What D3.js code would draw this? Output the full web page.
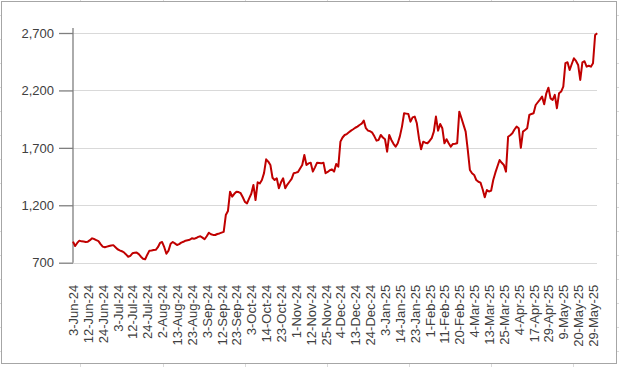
<!DOCTYPE html>
<html>
<head>
<meta charset="utf-8">
<script src="https://cdn.jsdelivr.net/npm/d3@7"></script>
<style>
  html, body { margin: 0; padding: 0; background: #ffffff; }
  svg { display: block; }
  text { font-family: "Liberation Sans", Arial, sans-serif; }
</style>
</head>
<body>
<svg id="chart" width="619" height="367"></svg>
<script>
// Daily closing values, 3-Jun-24 .. early Jun-25
const values = [
  883, 845, 872, 892, 886, 884, 880, 883, 896, 912,
  906, 896, 888, 862, 840, 834, 840, 846, 850, 853,
  835, 817, 808, 800, 790, 772, 752, 760, 782, 786,
  788, 775, 752, 735, 730, 770, 805, 806, 810, 812,
  835, 872, 880, 835, 778, 805, 865, 880, 868, 854,
  862, 875, 882, 892, 896, 900, 912, 908, 915, 925,
  930, 918, 904, 930, 961, 948, 942, 941, 950, 955,
  962, 968, 1115, 1150, 1318, 1275, 1300, 1318, 1315, 1305,
  1270, 1230, 1217, 1260, 1300, 1377, 1245, 1400, 1390, 1420,
  1480, 1600, 1580, 1551, 1440, 1420, 1435, 1348, 1400, 1435,
  1348, 1380, 1405, 1430, 1480, 1484, 1490, 1520, 1551, 1638,
  1551, 1565, 1571, 1493, 1530, 1571, 1568, 1565, 1571, 1479,
  1490, 1505, 1513, 1493, 1560, 1536, 1754, 1790, 1812, 1820,
  1835, 1850, 1862, 1875, 1885, 1899, 1910, 1937, 1871, 1850,
  1845, 1832, 1800, 1763, 1769, 1812, 1790, 1775, 1667, 1812,
  1769, 1735, 1710, 1740, 1800, 1885, 2001, 1998, 1995, 1928,
  1965, 1972, 1914, 1784, 1688, 1754, 1745, 1740, 1760, 1784,
  1841, 1972, 1850, 1908, 1871, 1740, 1775, 1740, 1710, 1734,
  1736, 1740, 2015, 1960, 1900, 1841, 1682, 1507, 1479, 1464,
  1420, 1405, 1397, 1339, 1270, 1333, 1320, 1327, 1420, 1484,
  1540, 1594, 1570, 1551, 1493, 1797, 1810, 1827, 1860, 1885,
  1871, 1700, 1841, 1855, 1871, 1986, 1995, 2001, 2073, 2097,
  2120, 2146, 2080, 2175, 2224, 2131, 2117, 2161, 2045, 2175,
  2190, 2233, 2437, 2445, 2378, 2430, 2480, 2457, 2422, 2291,
  2445, 2454, 2407, 2415, 2407, 2437, 2683, 2698
];

// Category labels shown on the axis (every 7th trading day)
const tickLabels = [
  "3-Jun-24", "12-Jun-24", "24-Jun-24", "3-Jul-24", "12-Jul-24", "24-Jul-24",
  "2-Aug-24", "13-Aug-24", "23-Aug-24", "3-Sep-24", "12-Sep-24", "23-Sep-24",
  "3-Oct-24", "14-Oct-24", "23-Oct-24", "1-Nov-24", "12-Nov-24", "25-Nov-24",
  "4-Dec-24", "13-Dec-24", "24-Dec-24", "3-Jan-25", "14-Jan-25", "23-Jan-25",
  "1-Feb-25", "11-Feb-25", "20-Feb-25", "4-Mar-25", "13-Mar-25", "25-Mar-25",
  "4-Apr-25", "17-Apr-25", "29-Apr-25", "9-May-25", "20-May-25", "29-May-25"
];
const labelStep = 7;

const yTicks = [700, 1200, 1700, 2200, 2700];

(function () {
const svg = d3.select("#chart");
const W = 619, H = 367;

// Background spreadsheet cell lines outside the chart frame
const cellCols = [80, 163, 245, 327, 409, 491, 573];
const cellRows = [15, 39, 63, 87, 111, 135, 159, 183, 207, 231, 255, 279, 303, 327, 351];
svg.append("g").selectAll("line").data(cellCols).join("line")
  .attr("x1", d => d + 0.5).attr("x2", d => d + 0.5)
  .attr("y1", 0).attr("y2", H)
  .attr("stroke", "#dadada").attr("stroke-width", 1);
svg.append("g").selectAll("line").data(cellRows).join("line")
  .attr("x1", 0).attr("x2", W)
  .attr("y1", d => d + 0.5).attr("y2", d => d + 0.5)
  .attr("stroke", "#dadada").attr("stroke-width", 1);

// Chart frame
svg.append("rect")
  .attr("x", 1.5).attr("y", 1.5).attr("width", 615).attr("height", 362)
  .attr("fill", "#ffffff").attr("stroke", "#a6a6a6").attr("stroke-width", 1);

const pLeft = 73, pRight = 597, pTop = 33, pBottom = 262.7;

const x = d3.scaleLinear().domain([0, 245]).range([pLeft, 593]);
const y = d3.scaleLinear().domain([700, 2700]).range([pBottom, pTop]);

// Gridlines
svg.append("g").selectAll("line").data(yTicks).join("line")
  .attr("x1", pLeft).attr("x2", pRight)
  .attr("y1", d => Math.round(y(d)) + 0.5).attr("y2", d => Math.round(y(d)) + 0.5)
  .attr("stroke", "#d9d9d9").attr("stroke-width", 1.2);

// Y axis
const yAxis = d3.axisLeft(y).tickValues(yTicks).tickSize(14).tickPadding(5)
  .tickFormat(d3.format(","));
const gy = svg.append("g").attr("transform", `translate(${pLeft},0)`).call(yAxis);
gy.select(".domain").remove();
gy.selectAll(".tick line").attr("stroke", "#7f7f7f").attr("stroke-width", 1.3);
gy.selectAll(".tick text").attr("fill", "#404040").style("font-size", "13px")
  .style("font-family", "'Liberation Sans', Arial, sans-serif");
gy.append("line")
  .attr("x1", 0).attr("x2", 0).attr("y1", 28).attr("y2", pBottom)
  .attr("stroke", "#7f7f7f").attr("stroke-width", 1.3);

// X axis labels (category ticks every 7 points)
const tickIdx = tickLabels.map((_, i) => i * labelStep);
const xAxis = d3.axisBottom(x).tickValues(tickIdx).tickSize(0)
  .tickFormat((d, i) => tickLabels[i]);
const gx = svg.append("g").attr("transform", `translate(0,${pBottom})`).call(xAxis);
gx.select(".domain").remove();
gx.selectAll(".tick text")
  .attr("fill", "#404040").style("font-size", "13px")
  .style("font-family", "'Liberation Sans', Arial, sans-serif")
  .attr("transform", "rotate(-90)")
  .attr("text-anchor", "end")
  .attr("x", -22).attr("y", 0).attr("dy", "0.35em");

// Line
const line = d3.line().x((d, i) => x(i)).y(d => y(d));
svg.append("path").datum(values)
  .attr("d", line)
  .attr("fill", "none")
  .attr("stroke", "#c00000")
  .attr("stroke-width", 2)
  .attr("stroke-linejoin", "round");
})();
</script>
</body>
</html>
